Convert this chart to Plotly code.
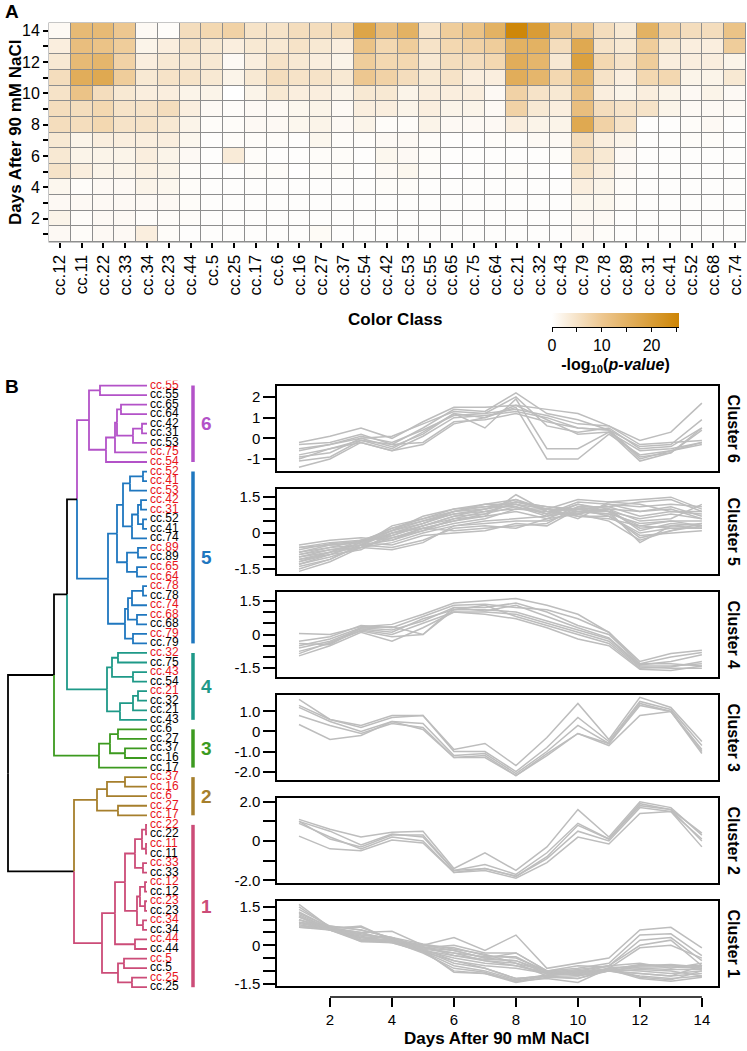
import plotly.graph_objects as go

W, H = 747, 1051
FONT = "Liberation Sans, Arial, sans-serif"


def fx(p):
    return p / W


def fy(p):
    return 1 - p / H


# ---------------- panel A data ----------------
color_classes = ["cc.12", "cc.11", "cc.22", "cc.33", "cc.34", "cc.23", "cc.44", "cc.5",
                 "cc.25", "cc.17", "cc.6", "cc.16", "cc.27", "cc.37", "cc.54", "cc.42",
                 "cc.53", "cc.55", "cc.65", "cc.75", "cc.64", "cc.21", "cc.32", "cc.43",
                 "cc.79", "cc.78", "cc.89", "cc.31", "cc.41", "cc.52", "cc.68", "cc.74"]
heat_days = [14, 13, 12, 11, 10, 9, 8, 7, 6, 5, 4, 3, 2, 1]
# -log10(p-value), one row per day (day 14 first)
neg_log_p = [
    [1, 13, 13, 10, 1, 0.5, 6, 7, 8, 5, 5, 6, 6, 7, 18, 12, 15, 5, 9, 11, 15, 25, 20, 10, 10, 6, 4, 15, 8, 6, 6, 11],
    [3, 12, 11, 9, 2, 3, 5, 4, 3, 4, 4, 5, 4, 3, 11, 7, 9, 5, 7, 8, 9, 15, 15, 6, 17, 5, 4, 9, 4, 3, 3, 9],
    [4, 13, 14, 8, 3, 4, 4, 4, 1, 3, 5, 4, 3, 2, 9, 7, 7, 4, 6, 6, 7, 16, 14, 4, 19, 7, 5, 9, 3, 3, 3, 2],
    [6, 16, 17, 9, 4, 5, 5, 4, 2, 4, 6, 5, 5, 4, 10, 8, 6, 4, 5, 3, 3, 16, 14, 7, 14, 5, 3, 7, 7, 2, 2, 4],
    [5, 11, 6, 4, 3, 3, 2, 2, 0, 2, 4, 3, 3, 2, 4, 4, 2, 3, 3, 3, 1, 8, 5, 4, 11, 3, 2, 3, 2, 1, 2, 1],
    [6, 6, 7, 5, 5, 6, 3, 1, 0.5, 1, 1, 1.5, 2, 1, 3, 3, 2, 3, 2, 2, 1, 8, 4, 3, 12, 6, 5, 5, 2, 1, 1, 1],
    [6, 6, 7, 5, 5, 4, 2, 0.5, 0.5, 1, 1, 1.5, 2, 1, 2, 0.5, 0.5, 2, 1, 1, 1, 3, 2, 2, 17, 8, 5, 0.3, 0.3, 0.5, 1, 0.3],
    [4, 2, 3, 3, 3, 3, 1.5, 0.3, 0.5, 0.5, 0.5, 0.3, 1.5, 0.5, 0.5, 1, 1, 0.5, 0.3, 0.3, 0.5, 0.5, 1, 1, 6, 3, 2, 0.3, 0.3, 0.5, 0.5, 0.3],
    [4, 2, 2, 2, 3, 2, 1, 0.3, 3.5, 0.5, 0.3, 0.3, 0.5, 0.5, 0.3, 1.5, 1, 0.5, 0.3, 0.3, 0.3, 0.3, 0.3, 0.5, 6, 4, 1, 0.3, 0.3, 0.3, 0.3, 0.3],
    [5, 3, 2, 2, 2.5, 2, 0.5, 0.3, 0.3, 0.5, 0.5, 0.1, 0.5, 0.5, 0.3, 1, 1.5, 0.5, 0.1, 0.3, 0.3, 0.5, 0.3, 0.1, 5, 3, 1, 0.3, 0.3, 0.3, 0.3, 0.3],
    [1.5, 0.5, 1, 1, 2, 1.5, 0.5, 0.3, 0.3, 0.3, 0.3, 0.3, 0.3, 0.3, 0.3, 0.5, 0.5, 0.3, 0.3, 0.3, 0.3, 0.3, 0.3, 0.3, 3, 2, 0.5, 0.3, 0.3, 0.3, 0.3, 0.3],
    [1, 1, 1, 1, 1, 1, 0.5, 0.3, 0.3, 0.3, 0.3, 0.3, 0.3, 0.3, 0.3, 0.3, 0.3, 0.3, 0.3, 0.3, 0.3, 0.3, 0.3, 0.3, 1.5, 1.5, 0.5, 0.3, 0.3, 0.3, 0.3, 0.3],
    [2, 0.5, 1, 1, 0.5, 0.5, 0.5, 0.3, 0.3, 0.3, 0.3, 0.3, 0.3, 0.3, 0.3, 0.3, 0.3, 0.3, 0.3, 0.3, 0.3, 0.3, 0.3, 0.3, 1, 1, 0.3, 0.3, 0.3, 0.3, 0.3, 0.3],
    [1, 0.5, 1, 1, 3, 0.5, 0.3, 0.3, 0.3, 0.3, 0.3, 0.3, 0.8, 0.3, 0.3, 0.3, 0.3, 0.3, 0.3, 0.3, 0.3, 0.3, 0.3, 0.3, 1, 0.5, 0.3, 0.3, 0.3, 0.3, 0.3, 0.3],
]
day_ticks = list(range(1, 15))
day_ticktext = [str(d) if d % 2 == 0 else "" for d in day_ticks]
cbar_ticks = [0, 5, 10, 15, 20, 25]
cbar_ticktext = ["0", "", "10", "", "20", ""]

# ---------------- panel B: dendrogram ----------------
leaf_labels = ["cc.55", "cc.55", "cc.65", "cc.64", "cc.42", "cc.31", "cc.53", "cc.75", "cc.54",
               "cc.52", "cc.41", "cc.53", "cc.42", "cc.31", "cc.52", "cc.41", "cc.74", "cc.89",
               "cc.89", "cc.65", "cc.64", "cc.78", "cc.78", "cc.74", "cc.68", "cc.68", "cc.79", "cc.79",
               "cc.32", "cc.75", "cc.43", "cc.54", "cc.21", "cc.32", "cc.21", "cc.43",
               "cc.6", "cc.27", "cc.37", "cc.16", "cc.17",
               "cc.37", "cc.16", "cc.6", "cc.27", "cc.17",
               "cc.22", "cc.22", "cc.11", "cc.11", "cc.33", "cc.33", "cc.12", "cc.12", "cc.23",
               "cc.23", "cc.34", "cc.34", "cc.44", "cc.44", "cc.5", "cc.5", "cc.25", "cc.25"]
leaf_is_red = [1, 0, 0, 0, 0, 0, 0, 1, 1,
               1, 1, 1, 1, 1, 0, 0, 0, 1, 0, 1, 1, 1, 0, 1, 1, 0, 1, 0,
               1, 0, 1, 0, 1, 0, 0, 0,
               0, 0, 0, 0, 0,
               1, 1, 1, 1, 1,
               1, 0, 1, 0, 1, 0, 1, 0, 1, 0, 1, 0, 1, 0, 1, 0, 1, 0]
leaf_cluster = [6] * 9 + [5] * 19 + [4] * 8 + [3] * 5 + [2] * 5 + [1] * 18
# merges: (node a, node b, height); new node ids start at 64
merges = [
    (0, 1, 47), (2, 3, 26), (4, 5, 5), (66, 6, 14), (65, 67, 30), (68, 7, 32), (69, 8, 41), (64, 70, 58),
    (9, 10, 4), (72, 11, 17), (12, 13, 6), (14, 15, 4), (74, 75, 9), (76, 16, 15), (73, 77, 24),
    (17, 18, 9), (19, 20, 10), (79, 80, 20), (78, 81, 30), (21, 22, 4), (83, 23, 15), (24, 25, 10),
    (84, 85, 19), (26, 27, 14), (86, 87, 22), (82, 88, 39),
    (71, 89, 70),
    (28, 29, 29), (30, 31, 14), (91, 92, 35), (32, 33, 9), (94, 34, 14), (95, 35, 27), (93, 96, 40),
    (90, 97, 80),
    (36, 37, 29), (38, 39, 22), (99, 100, 37), (101, 40, 48),
    (98, 102, 93),
    (41, 42, 22), (104, 43, 40), (44, 45, 29), (105, 106, 50),
    (46, 47, 1), (48, 49, 1), (108, 109, 5), (50, 51, 4), (110, 111, 12), (52, 53, 2), (54, 55, 2),
    (113, 114, 7), (56, 57, 4), (115, 116, 10), (112, 117, 22), (58, 59, 12), (118, 119, 32),
    (60, 61, 23), (62, 63, 15), (121, 122, 29), (120, 123, 45),
    (107, 124, 73),
    (103, 125, 139),
]
cluster_colors = {6: "#B352C8", 5: "#1F77BF", 4: "#1E9988", 3: "#3C9A1F", 2: "#A67F2C", 1: "#CC4C78"}

# ---------------- panel B: cluster profiles ----------------
days = list(range(1, 15))
cluster6 = [
    [-0.2, 0.1, 0.5, 0.0, 0.8, 1.5, 1.5, 1.6, 1.4, 1.2, 0.6, -0.1, 0.3, 1.7],
    [-0.3, -0.2, 0.2, -0.3, 0.5, 1.4, 1.3, 2.2, 1.2, 0.9, 0.4, -0.4, -0.3, 0.9],
    [-0.5, -0.3, 0.0, 0.1, 0.7, 1.3, 1.2, 2.0, 0.6, 0.3, 0.5, -0.5, -0.4, 0.5],
    [-0.8, -0.5, -0.1, -0.5, 0.3, 1.2, 0.5, 1.9, -0.5, -0.5, 0.3, -0.6, -0.5, -0.2],
    [-0.9, -0.7, 0.0, -0.4, 0.2, 1.2, 1.0, 1.5, -1.0, -1.0, 0.2, -0.8, -0.6, -0.3],
    [-1.0, -0.5, -0.2, -0.6, 0.1, 1.0, 1.1, 1.3, 1.0, 0.5, 0.4, -0.9, -0.7, 0.4],
    [-1.1, -0.9, -0.1, -0.3, -0.2, 0.8, 0.9, 1.2, 0.8, 0.5, 0.4, -1.0, -0.6, -0.2],
    [-1.4, -1.0, -0.2, -0.6, -0.3, 0.7, 1.0, 1.6, 0.9, 0.2, 0.3, -1.1, -0.7, 0.5],
    [-0.6, -0.3, 0.1, -0.2, 0.4, 1.1, 1.2, 1.4, 1.1, 0.7, 0.6, -0.3, -0.2, -0.1],
]
cluster5 = [
    [-0.6, -0.4, -0.3, 0.1, 0.5, 0.8, 1.0, 1.2, 1.0, 1.4, 1.3, 1.4, 1.5, 1.0],
    [-0.7, -0.45, -0.35, 0.2, 0.6, 1.0, 1.1, 1.3, 1.1, 1.0, 1.1, 1.3, 1.4, 0.9],
    [-0.8, -0.5, -0.4, 0.0, 0.4, 0.9, 1.2, 1.4, 0.9, 0.8, 1.2, 1.1, 1.2, 1.1],
    [-0.9, -0.6, -0.3, -0.1, 0.3, 0.7, 1.0, 1.3, 1.1, 0.9, 1.0, 0.9, 1.1, 0.7],
    [-1.0, -0.7, -0.5, 0.1, 0.7, 1.0, 1.2, 1.2, 0.8, 1.2, 0.9, 0.6, 0.8, 0.6],
    [-1.1, -0.8, -0.4, 0.2, 0.5, 0.9, 1.1, 1.1, 0.7, 0.9, 0.8, 0.4, 0.5, 0.5],
    [-1.2, -0.9, -0.5, 0.0, 0.3, 0.6, 0.9, 1.0, 0.9, 1.0, 0.9, 0.2, 0.3, 0.4],
    [-1.3, -1.0, -0.6, -0.2, 0.2, 0.5, 0.8, 1.1, 0.8, 0.8, 1.0, 0.1, 0.4, 0.3],
    [-1.4, -1.1, -0.5, -0.3, 0.1, 0.4, 0.6, 1.0, 1.0, 0.7, 0.7, 0.0, 0.2, 0.2],
    [-1.6, -1.2, -0.6, -0.7, -0.4, 0.3, 0.4, 0.5, 0.5, 0.9, 0.8, -0.2, 0.1, 0.3],
    [-0.5, -0.3, -0.2, -0.3, 0.2, 0.1, 0.2, 0.3, 0.4, 1.1, 0.9, 0.3, 0.2, 0.2],
    [-0.6, -0.5, -0.4, -0.5, -0.1, 0.0, 0.1, 0.4, 0.3, 1.0, 0.7, -0.1, 0.0, 0.1],
    [-0.8, -0.6, -0.5, -0.6, -0.3, 0.2, 0.3, 0.2, 0.6, 0.8, 0.5, -0.3, 0.1, 0.4],
    [-0.9, -0.7, -0.6, -0.4, 0.0, 0.3, 0.5, 0.6, 0.7, 1.2, 1.0, 0.5, 0.6, 1.2],
    [-1.0, -0.8, -0.3, -0.2, 0.1, 0.6, 0.7, 0.9, 0.6, 1.1, 1.1, 0.7, 0.9, 0.8],
    [-1.1, -0.9, -0.4, 0.1, 0.4, 0.8, 0.9, 1.2, 0.8, 1.3, 1.2, 0.9, 1.0, 0.6],
    [-1.2, -0.8, -0.6, -0.1, 0.3, 0.7, 0.8, 1.3, 1.0, 0.6, 1.3, 1.2, 0.9, 0.9],
    [-1.3, -0.9, -0.7, 0.0, 0.2, 0.5, 0.7, 1.6, 0.9, 0.7, 0.6, 0.3, 0.5, 0.3],
    [-1.5, -1.1, -0.5, 0.3, 0.6, 0.9, 1.0, 1.4, 1.0, 0.9, 0.9, -0.4, 0.3, 0.2],
]
cluster4 = [
    [0.05, 0.0, 0.35, 0.45, 0.9, 1.4, 1.5, 1.6, 1.3, 0.9, 0.1, -1.2, -0.85, -0.7],
    [-0.3, -0.1, 0.4, 0.3, 0.8, 1.3, 1.35, 1.2, 1.1, 0.7, 0.1, -1.3, -1.0, -0.8],
    [-0.5, -0.2, 0.3, 0.2, 0.6, 1.2, 1.2, 1.4, 1.0, 0.4, 0.0, -1.3, -1.3, -1.4],
    [-0.6, -0.3, 0.25, 0.1, 0.7, 1.1, 1.1, 1.0, 0.6, 0.2, -0.2, -1.4, -1.4, -1.3],
    [-0.75, -0.4, 0.2, 0.0, 0.5, 1.0, 1.0, 0.9, 0.5, 0.1, -0.3, -1.45, -1.5, -1.5],
    [-0.85, -0.35, 0.15, -0.1, 0.0, 1.1, 1.3, 0.8, 0.4, 0.0, -0.4, -1.5, -1.45, -1.2],
    [-0.95, -0.5, 0.1, -0.3, 0.3, 1.0, 0.9, 0.7, 0.3, -0.2, -0.5, -1.55, -1.6, -1.4],
    [-0.4, -0.45, 0.3, 0.35, 0.0, 1.2, 1.05, 1.3, 0.8, 0.3, -0.15, -1.35, -1.2, -0.9],
]
cluster3 = [
    [1.6, 0.6, 0.3, 0.8, 0.8, -0.9, -0.6, -1.7, -0.3, 1.4, -0.4, 1.7, 1.2, -0.5],
    [1.3, 0.6, 0.2, 0.7, 0.8, -1.0, -1.0, -2.0, -0.8, 0.7, -0.5, 1.5, 1.1, -0.7],
    [1.2, 0.5, 0.0, 0.5, 0.4, -1.2, -1.1, -2.1, -1.0, 0.3, -0.6, 1.4, 1.0, -0.9],
    [0.8, 0.3, -0.1, 0.4, 0.2, -1.3, -1.2, -2.2, -1.1, -0.1, -0.6, 1.3, 1.0, -1.0],
    [0.35, -0.4, -0.2, 0.5, 0.1, -1.3, -1.3, -2.2, -1.2, -0.1, -0.7, 0.8, 1.0, -1.1],
]
cluster2 = [
    [1.1, 0.6, 0.2, 0.45, 0.5, -1.4, -0.6, -1.5, -0.3, 1.6, 0.2, 2.0, 1.7, 0.3],
    [1.0, 0.5, -0.2, 0.35, 0.2, -1.5, -1.2, -1.7, -0.6, 0.9, 0.1, 1.9, 1.6, 0.0],
    [0.9, 0.2, -0.4, 0.2, 0.0, -1.6, -1.4, -1.8, -0.9, 0.5, 0.0, 1.7, 1.5, -0.3],
    [0.25, -0.4, -0.5, 0.05, -0.1, -1.6, -1.5, -1.9, -1.1, 0.2, -0.15, 1.4, 1.5, 0.1],
    [1.0, 0.1, -0.3, 0.3, 0.3, -1.5, -1.4, -1.8, -0.8, 0.8, 0.1, 1.8, 1.6, 0.4],
]
cluster1 = [
    [1.6, 0.7, 0.5, 0.55, 0.0, 0.3, -0.2, 0.4, -0.9, -0.7, -0.5, 0.6, 0.7, -0.1],
    [1.4, 0.75, 0.6, 0.3, -0.1, 0.0, -0.3, -0.3, -1.0, -0.9, -0.7, 0.4, 0.45, -0.4],
    [1.3, 0.7, 0.7, 0.25, 0.0, -0.1, -0.4, -0.5, -1.0, -1.0, -0.8, 0.2, 0.3, -0.6],
    [1.2, 0.65, 0.5, 0.2, -0.1, -0.2, -0.5, -0.6, -1.1, -1.1, -0.8, 0.0, 0.2, -0.8],
    [1.1, 0.7, 0.4, 0.3, 0.05, -0.15, -0.35, -0.7, -1.0, -1.2, -0.9, -0.1, 0.0, -0.5],
    [1.0, 0.6, 0.3, 0.2, -0.15, -0.3, -0.6, -0.8, -1.1, -1.0, -1.0, -0.8, -0.8, -0.9],
    [0.9, 0.65, 0.45, 0.25, -0.2, -0.4, -0.6, -0.7, -1.2, -1.05, -0.95, -0.75, -0.8, -0.8],
    [0.8, 0.6, 0.35, 0.15, -0.2, -0.5, -0.7, -0.8, -1.05, -1.1, -0.9, -0.8, -0.75, -0.85],
    [0.75, 0.7, 0.2, 0.2, -0.25, -0.6, -0.8, -0.9, -1.1, -1.0, -1.0, -0.85, -0.85, -0.9],
    [0.7, 0.6, 0.15, 0.15, -0.2, -0.7, -0.9, -1.3, -1.2, -1.0, -0.95, -1.0, -1.1, -1.0],
    [0.85, 0.65, 0.3, 0.1, -0.25, -0.8, -1.0, -1.35, -1.15, -1.1, -1.0, -1.1, -1.2, -1.1],
    [1.0, 0.7, 0.25, 0.15, -0.3, -0.9, -1.05, -1.4, -1.2, -1.2, -1.0, -1.2, -1.3, -1.2],
    [1.1, 0.6, 0.2, 0.2, -0.25, -1.0, -1.1, -1.45, -1.25, -1.3, -0.95, -1.3, -1.4, -1.25],
    [1.25, 0.7, 0.15, 0.1, -0.2, -1.05, -1.1, -1.4, -1.3, -1.45, -0.9, -1.25, -1.35, -1.0],
    [0.9, 0.75, 0.6, 0.3, -0.15, -0.6, -0.9, -1.3, -1.2, -1.3, -1.0, -1.1, -1.2, -0.8],
    [0.7, 0.65, 0.75, 0.2, 0.0, -0.2, -0.5, -0.3, -1.0, -0.8, -0.85, -0.9, -0.95, -0.95],
    [1.5, 0.7, 0.3, 0.3, -0.1, -0.3, -0.45, -0.45, -1.05, -0.95, -0.8, -0.7, -0.9, -0.7],
    [1.15, 0.6, 0.4, 0.25, -0.05, -0.4, -0.55, -0.6, -1.0, -1.15, -1.0, -0.95, -1.0, -1.2],
]
profile_names = ["Cluster 6", "Cluster 5", "Cluster 4", "Cluster 3", "Cluster 2", "Cluster 1"]
profiles = [cluster6, cluster5, cluster4, cluster3, cluster2, cluster1]
profile_ranges = [[-1.58, 2.53], [-1.71, 1.84], [-1.89, 1.89], [-2.42, 1.82], [-2.14, 2.19], [-1.59, 1.73]]
half_ticks = [-1.5, -1.0, -0.5, 0, 0.5, 1.0, 1.5]
half_text = ["-1.5", "", "", "0", "", "", "1.5"]
profile_tickvals = [[-1, 0, 1, 2], half_ticks, half_ticks, [-2, -1, 0, 1], [-2, -1, 0, 1, 2], half_ticks]
profile_ticktext = [["-1", "0", "1", "2"], half_text, half_text, ["-2.0", "-1.0", "0", "1.0"],
                    ["-2.0", "", "0", "", "2.0"], half_text]
bottom_ticks = [2, 4, 6, 8, 10, 12, 14]

fig = go.Figure()

# ---------- heatmap ----------
fig.add_trace(go.Heatmap(
    z=neg_log_p, x=color_classes, y=heat_days, zmin=0, zmax=25.5,
    colorscale=[[0, "#FFFFFF"], [0.4, "rgb(237,198,142)"], [1, "rgb(205,133,5)"]],
    xgap=1, ygap=1, hoverinfo="skip",
    colorbar=dict(orientation="h", x=fx(615.5), xanchor="center", y=fy(313), yanchor="top",
                  len=127, lenmode="pixels", thickness=14, outlinewidth=0, xpad=0, ypad=0,
                  tickvals=cbar_ticks, ticktext=cbar_ticktext, ticks="outside", ticklen=5,
                  tickwidth=1.2, tickcolor="black",
                  tickfont=dict(size=16, family=FONT, color="black"),
                  title=dict(text="<b>-log<sub>10</sub>(<i>p-value</i>)</b>", side="bottom",
                             font=dict(size=16, family=FONT, color="black"))),
))

# ---------- dendrogram ----------
n_leaves = len(leaf_labels)
pos = list(range(n_leaves))
hgt = [0] * n_leaves
members = [{c} for c in leaf_cluster]
segs = {}
for a, b, h in merges:
    mid = (pos[a] + pos[b]) / 2
    for c in (a, b):
        col = cluster_colors[list(members[c])[0]] if len(members[c]) == 1 else "black"
        xs, ys = segs.setdefault(col, ([], []))
        xs += [h, h, hgt[c], None]
        ys += [mid, pos[c], pos[c], None]
    pos.append(mid)
    hgt.append(h)
    members.append(members[a] | members[b])

for col, (xs, ys) in segs.items():
    fig.add_trace(go.Scatter(x=xs, y=ys, mode="lines", line=dict(color=col, width=1.8),
                             xaxis="x2", yaxis="y2", hoverinfo="skip", showlegend=False))

fig.add_trace(go.Scatter(
    x=[-3] * n_leaves, y=list(range(n_leaves)), mode="text", text=leaf_labels,
    textposition="middle right",
    textfont=dict(size=12, family=FONT, color=["#E8141B" if r else "black" for r in leaf_is_red]),
    xaxis="x2", yaxis="y2", hoverinfo="skip", showlegend=False))


def note(x, y, text, size, angle=0, color="black", xref="paper", yref="paper"):
    return dict(x=x, y=y, xref=xref, yref=yref, text=text, textangle=angle, showarrow=False,
                xanchor="center", yanchor="middle", font=dict(size=size, family=FONT, color=color))


annotations = []
for k in [6, 5, 4, 3, 2, 1]:
    idx = [i for i, c in enumerate(leaf_cluster) if c == k]
    fig.add_trace(go.Scatter(x=[-46, -46], y=[min(idx), max(idx)], mode="lines",
                             line=dict(color=cluster_colors[k], width=3.5),
                             xaxis="x2", yaxis="y2", hoverinfo="skip", showlegend=False))
    annotations.append(note(-59, (min(idx) + max(idx)) / 2, f"<b>{k}</b>", 19,
                            color=cluster_colors[k], xref="x2", yref="y2"))

# ---------- cluster profiles ----------
layout_axes = {}
for p, lines in enumerate(profiles):
    n = p + 3
    top = 386 + p * 103
    bot = top + 85
    for ln in lines:
        fig.add_trace(go.Scatter(x=days, y=ln, mode="lines", line=dict(color="#BDBDBD", width=1.5),
                                 xaxis=f"x{n}", yaxis=f"y{n}", hoverinfo="skip", showlegend=False))
    layout_axes[f"xaxis{n}"] = dict(domain=[fx(277), fx(718)], anchor=f"y{n}", range=[0.29, 14.52],
                                    showline=True, mirror=True, linecolor="black", linewidth=1.5,
                                    showgrid=False, zeroline=False, showticklabels=False, ticks="",
                                    automargin=False)
    layout_axes[f"yaxis{n}"] = dict(domain=[fy(bot), fy(top)], anchor=f"x{n}", range=profile_ranges[p],
                                    showline=True, mirror=True, linecolor="black", linewidth=1.5,
                                    showgrid=False, zeroline=False, ticks="outside", ticklen=12,
                                    tickwidth=1.5, tickcolor="black", automargin=False,
                                    tickvals=profile_tickvals[p], ticktext=profile_ticktext[p],
                                    tickfont=dict(size=15, family=FONT, color="black"))
    annotations.append(note(fx(733), fy((top + bot) / 2), f"<b>{profile_names[p]}</b>", 16, angle=90))

# detached time axis under the profiles
fig.add_trace(go.Scatter(x=[], y=[], xaxis="x9", yaxis="y9", showlegend=False, hoverinfo="skip"))
layout_axes["xaxis9"] = dict(domain=[fx(277), fx(718)], anchor="y9", range=[0.29, 14.52],
                             tickvals=bottom_ticks, ticks="outside", ticklen=9, tickwidth=1.5,
                             tickcolor="black", showline=False, showgrid=False, zeroline=False,
                             automargin=False,
                             tickfont=dict(size=15, family=FONT, color="black"))
layout_axes["yaxis9"] = dict(domain=[fy(997), fy(990)], anchor="x9", visible=False)

annotations += [
    note(fx(12), fy(12), "<b>A</b>", 19),
    note(fx(12), fy(386), "<b>B</b>", 19),
    note(fx(15), fy(132), "<b>Days After 90 mM NaCl</b>", 17, angle=-90),
    note(fx(395), fy(320), "<b>Color Class</b>", 17),
    note(fx(497), fy(1038), "<b>Days After 90 mM NaCl</b>", 17),
]

shapes = [
    # grid colour behind the heatmap cells
    dict(type="rect", xref="paper", yref="paper", x0=fx(48.5), x1=fx(746), y0=fy(242.5), y1=fy(22.5),
         fillcolor="#8E8E8E", line=dict(width=0), layer="below"),
    # colorbar axis line
    dict(type="line", xref="paper", yref="paper", x0=fx(552), x1=fx(679), y0=fy(327.5), y1=fy(327.5),
         line=dict(color="black", width=1.2)),
    # time axis line from first to last tick
    dict(type="line", xref="x9", yref="paper", x0=bottom_ticks[0], x1=bottom_ticks[-1],
         y0=fy(997), y1=fy(997), line=dict(color="black", width=1.5)),
]

fig.update_layout(
    template="none",
    width=W, height=H, autosize=False,
    margin=dict(l=0, r=0, t=0, b=0, pad=0),
    paper_bgcolor="white", plot_bgcolor="white",
    font=dict(family=FONT, color="black"),
    showlegend=False,
    xaxis=dict(domain=[fx(49), fx(746)], anchor="y", tickangle=-90, ticks="outside", ticklen=5,
               tickwidth=2, tickcolor="black", showgrid=False, zeroline=False, showline=False,
               automargin=False, tickfont=dict(size=17, family=FONT, color="black")),
    yaxis=dict(domain=[fy(242), fy(23)], anchor="x", range=[0.5, 14.5], tickvals=day_ticks,
               ticktext=day_ticktext, ticks="outside", ticklen=5, tickwidth=2, tickcolor="black",
               showgrid=False, zeroline=False, showline=False, automargin=False,
               tickfont=dict(size=16, family=FONT, color="black")),
    xaxis2=dict(domain=[0, fx(230)], anchor="y2", range=[147, -83], visible=False),
    yaxis2=dict(domain=[fy(992), fy(380.8)], anchor="x2", range=[63.5, -0.5], visible=False),
    annotations=annotations,
    shapes=shapes,
    **layout_axes,
)

# the page body has a default 8px margin; drop it so the figure sits at the window's corner
fig.write_html("out.html", config={"displayModeBar": False},
               post_script="document.body.style.margin='0';")
